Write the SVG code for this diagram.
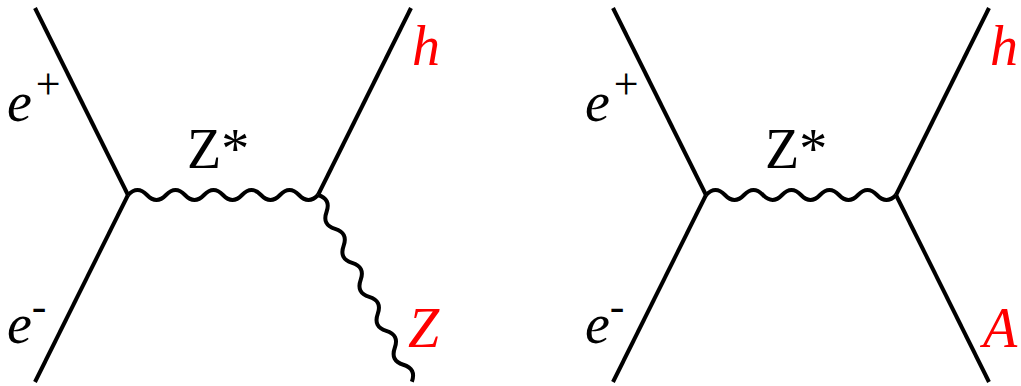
<svg xmlns="http://www.w3.org/2000/svg" width="1021" height="386" viewBox="0 0 1021 386">
<style>
.f{fill:none;stroke:#000;stroke-width:4;stroke-linecap:butt;stroke-linejoin:round}
.t{font-family:'Liberation Serif','DejaVu Serif','Noto Serif',serif;font-size:56px;fill:#000}
.it{font-style:italic}
.red{fill:#ff0000}
</style>
<defs>
<path id="wave190" d="M0,0 q9.5,-10 19,0 t19,0 t19,0 t19,0 t19,0 t19,0 t19,0 t19,0 t19,0 t19,0"/>
<path id="wave209" d="M0,0 q9.5,-10 19,0 t19,0 t19,0 t19,0 t19,0 t19,0 t19,0 t19,0 t19,0 t19,0 t19,0"/>
</defs>
<g id="connectors">
  <g id="left-diagram-lines">
    <line class="f" x1="35" y1="8" x2="128" y2="195"/>
    <line class="f" x1="35" y1="382" x2="128" y2="195"/>
    <use href="#wave190" class="f" transform="translate(128,195)"/>
    <line class="f" x1="318" y1="195" x2="411" y2="8"/>
    <use href="#wave209" class="f" transform="translate(318,195) rotate(63.31)"/>
  </g>
  <g id="right-diagram-lines">
    <line class="f" x1="613" y1="8" x2="706" y2="195"/>
    <line class="f" x1="613" y1="382" x2="706" y2="195"/>
    <use href="#wave190" class="f" transform="translate(706,195)"/>
    <line class="f" x1="896" y1="195" x2="989" y2="8"/>
    <line class="f" x1="896" y1="195" x2="989" y2="382"/>
  </g>
</g>
<g id="left-ep"><text class="t" x="7" y="121"><tspan class="it">e</tspan><tspan font-size="44" dy="-22" dx="4">+</tspan></text></g>
<g id="left-em"><text class="t" x="7" y="343"><tspan class="it">e</tspan><tspan font-size="44" dy="-22">-</tspan></text></g>
<g id="left-zstar"><text class="t" x="187" y="168">Z*</text></g>
<g id="left-h"><text class="t it red" x="412" y="65">h</text></g>
<g id="left-Z"><text class="t it red" x="408" y="347">Z</text></g>
<g id="right-ep"><text class="t" x="585" y="121"><tspan class="it">e</tspan><tspan font-size="44" dy="-22" dx="4">+</tspan></text></g>
<g id="right-em"><text class="t" x="585" y="343"><tspan class="it">e</tspan><tspan font-size="44" dy="-22">-</tspan></text></g>
<g id="right-zstar"><text class="t" x="765" y="168">Z*</text></g>
<g id="right-h"><text class="t it red" x="990" y="65">h</text></g>
<g id="right-A"><text class="t it red" x="983" y="347">A</text></g>
</svg>
